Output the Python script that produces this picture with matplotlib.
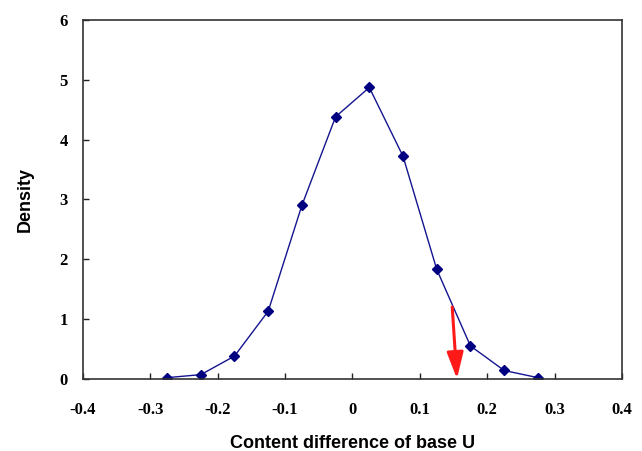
import matplotlib
matplotlib.use('Agg')
import matplotlib.pyplot as plt
import numpy as np

# content difference (bin centres) and density
x_vals = [-0.275, -0.225, -0.175, -0.125, -0.075, -0.025, 0.025, 0.075, 0.125, 0.175, 0.225, 0.275]
density = [0.02, 0.07, 0.38, 1.13, 2.90, 4.38, 4.87, 3.72, 1.83, 0.55, 0.14, 0.02]
x_ticks = [-0.4, -0.3, -0.2, -0.1, 0, 0.1, 0.2, 0.3, 0.4]
x_ticklabels = ['-0.4', '-0.3', '-0.2', '-0.1', '0', '0.1', '0.2', '0.3', '0.4']
y_ticks = [0, 1, 2, 3, 4, 5, 6]
arrow_start = (0.148, 1.2)
arrow_end = (0.155, 0.0)


def main():
    fig = plt.figure(figsize=(6.42, 4.51), dpi=100)
    ax = fig.add_axes([0.129, 0.160, 0.840, 0.796])

    ax.plot(x_vals, density, color='#141490', lw=1.0, marker='D', ms=5,
            mfc='#000080', mec='#000080')

    ax.annotate('', xy=arrow_end, xytext=arrow_start,
                arrowprops=dict(arrowstyle='-|>,head_width=0.5,head_length=1.6',
                                color='#ff1a1a', lw=2.2, shrinkA=0, shrinkB=0))

    ax.set_xlim(-0.4, 0.4)
    ax.set_ylim(0, 6)
    ax.set_xticks(x_ticks)
    ax.set_xticklabels(x_ticklabels)
    ax.set_yticks(y_ticks)
    ax.tick_params(direction='in', length=4, width=1, color='#222222')
    ax.tick_params(axis='x', pad=17)
    ax.tick_params(axis='y', pad=11)
    for lab in ax.get_xticklabels() + ax.get_yticklabels():
        lab.set_fontfamily('Liberation Serif')
        lab.set_fontweight('bold')
        lab.set_fontsize(12)
    for s in ax.spines.values():
        s.set_color('#333333')
        s.set_linewidth(1.2)

    ax.set_xlabel('Content difference of base U', fontfamily='Liberation Sans',
                  fontweight='bold', fontsize=13, labelpad=12)
    ax.set_ylabel('Density', fontfamily='Liberation Sans',
                  fontweight='bold', fontsize=13, labelpad=18)

    plt.savefig('out.png')


if __name__ == '__main__':
    main()
